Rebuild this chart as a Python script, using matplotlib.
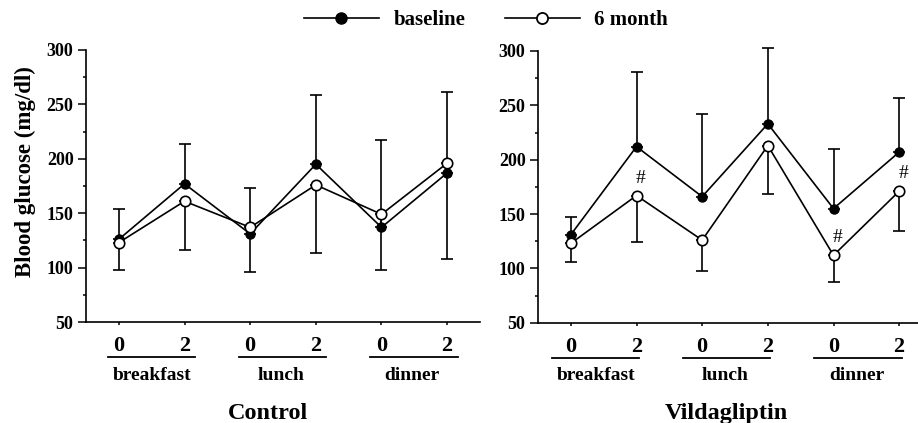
import numpy as np
import matplotlib.pyplot as plt
from matplotlib.lines import Line2D

plt.rcParams['font.family'] = ['Liberation Serif', 'DejaVu Serif']
plt.rcParams['font.weight'] = 'bold'

# Data
timepoints = ["0", "2", "0", "2", "0", "2"]
meals = ["breakfast", "lunch", "dinner"]

control_baseline = [126, 177, 131, 195, 137, 187]
control_baseline_sd = [28, 37, 42, 64, 80, 74]
control_6month = [123, 161, 137, 176, 149, 196]
control_6month_sd = [25, 45, 41, 63, 51, 88]

vilda_baseline = [131, 212, 166, 233, 155, 207]
vilda_baseline_sd = [16, 69, 76, 70, 55, 50]
vilda_6month = [123, 167, 126, 213, 112, 171]
vilda_6month_sd = [17, 43, 28, 45, 25, 37]
vilda_significant = [1, 4, 5]

fig = plt.figure(figsize=(9.18, 4.23), dpi=100)
ax1 = fig.add_axes([86 / 918, 1 - 322 / 423, 394 / 918, 272 / 423])
ax2 = fig.add_axes([538 / 918, 1 - 322.7 / 423, 394 / 918, 271.7 / 423])

x = np.arange(6)


def draw_panel(ax, base, base_sd, m6, m6_sd, title, title_x, shift):
    zeros = np.zeros(6)
    ax.errorbar(x, base, yerr=[zeros, base_sd], color="black", lw=1.2,
                capsize=4.3, capthick=1.2, fmt="none", clip_on=False, zorder=2)
    ax.errorbar(x, m6, yerr=[m6_sd, zeros], color="black", lw=1.2,
                capsize=4.3, capthick=1.2, fmt="none", clip_on=False, zorder=2)
    ax.plot(x, base, color="black", lw=1.2, marker="o", ms=6.5,
            mfc="black", mec="black", clip_on=False, zorder=3)
    ax.plot(x, m6, color="black", lw=1.2, marker="o", ms=7.5,
            mfc="white", mec="black", mew=1.2, clip_on=False, zorder=4)

    ax.set_xlim(-0.5, 5.5)
    ax.set_ylim(50, 300)
    ax.set_yticks(np.arange(50, 301, 50))
    ax.set_yticks(np.arange(75, 300, 50), minor=True)
    ax.set_xticks(x)
    ax.set_xticklabels(timepoints, fontsize=16, fontweight="bold")
    ax.tick_params(axis="y", which="major", length=6, width=1.1,
                   labelsize=13, pad=3)
    ax.tick_params(axis="y", which="minor", length=2.5, width=1.1)
    ax.tick_params(axis="x", length=2, width=1.1, pad=8)
    for s in ["top", "right"]:
        ax.spines[s].set_visible(False)
    for s in ["left", "bottom"]:
        ax.spines[s].set_linewidth(1.2)

    trans = ax.get_xaxis_transform()
    for i, meal in enumerate(meals):
        x0 = 2 * i - 0.17 + shift
        ax.add_line(Line2D([x0, x0 + 1.33], [-0.13, -0.13], color="black",
                           lw=1.3, transform=trans, clip_on=False))
        ax.text(2 * i + 0.5 + shift - 0.03 * (i > 0), -0.195, meal,
                transform=trans, ha="center", va="center", fontsize=14,
                fontweight="bold")
    ax.text(title_x, -0.335, title, transform=trans, ha="center",
            va="center", fontsize=17.5, fontweight="bold")


draw_panel(ax1, control_baseline, control_baseline_sd, control_6month,
           control_6month_sd, "Control", 2.27, 0.0)
draw_panel(ax2, vilda_baseline, vilda_baseline_sd, vilda_6month,
           vilda_6month_sd, "Vildagliptin", 2.37, -0.12)

for i in vilda_significant:
    ax2.text(x[i] + 0.06, vilda_6month[i] + 16, "#", ha="center",
             va="center", fontsize=14, fontweight="normal")

fig.text(25 / 918, 1 - 172 / 423, "Blood glucose (mg/dl)", rotation=90,
         ha="center", va="center", fontsize=16.5, fontweight="bold")

# legend
h1 = Line2D([], [], color="black", lw=1.2, marker="o", ms=8,
            mfc="black", mec="black")
h2 = Line2D([], [], color="black", lw=1.2, marker="o", ms=8,
            mfc="white", mec="black", mew=1.3)
fig.legend([h1, h2], ["baseline", "6 month"], loc="center",
           bbox_to_anchor=(486 / 918, 1 - 20 / 423), ncol=2, frameon=False,
           prop={"size": 15, "weight": "bold"}, handlelength=3.6,
           columnspacing=1.9, handletextpad=0.7)

fig.savefig("out.png", dpi=100)
